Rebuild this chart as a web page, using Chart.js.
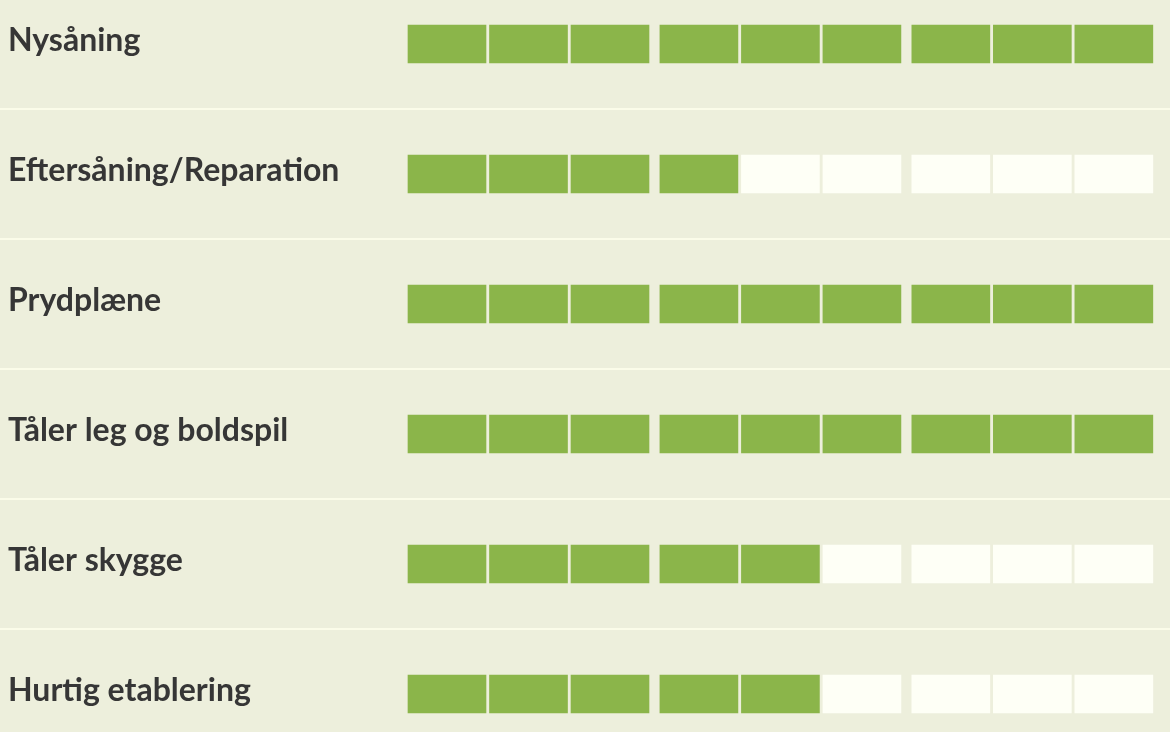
<!DOCTYPE html>
<html>
<head>
<meta charset="utf-8">
<script src="https://cdn.jsdelivr.net/npm/chart.js@4.4.0/dist/chart.umd.min.js"></script>
<style>
  html, body { margin: 0; padding: 0; background: #edefdc; }
  #wrap { width: 1170px; height: 732px; }
</style>
</head>
<body>
<div id="wrap"><canvas id="chart"></canvas></div>
<script>
// rows and how many of the 9 segments are filled
var categories = ['Nysåning', 'Eftersåning/Reparation', 'Prydplæne', 'Tåler leg og boldspil', 'Tåler skygge', 'Hurtig etablering'];
var scores = [9, 4, 9, 9, 5, 5];
var segmentCount = 9;
var groupSize = 3;

var green = '#8bb54a';
var empty = '#fefff6';
var smallGap = 0.045;   // gap between segments, in segment widths
var groupGap = 0.14;    // gap between groups of three

var datasets = [];
for (var i = 0; i < segmentCount; i++) {
    var start = i * (1 + smallGap) + Math.floor(i / groupSize) * (groupGap - smallGap);
    datasets.push({
        label: 'seg' + i,
        data: categories.map(function () { return [start, start + 1]; }),
        backgroundColor: scores.map(function (s) { return i < s ? green : empty; }),
        borderWidth: 0,
        grouped: false,
        clip: false,
        barThickness: 38
    });
}

// thin light lines between the rows, across the whole width
var rowLines = {
    id: 'rowLines',
    beforeDatasetsDraw: function (chart) {
        var ctx = chart.ctx;
        var y = chart.scales.y;
        ctx.save();
        ctx.strokeStyle = '#fbfce9';
        ctx.lineWidth = 2;
        for (var k = 0; k < categories.length - 1; k++) {
            var py = (y.getPixelForValue(k) + y.getPixelForValue(k + 1)) / 2;
            ctx.beginPath();
            ctx.moveTo(0, py);
            ctx.lineTo(chart.width, py);
            ctx.stroke();
        }
        ctx.restore();
    }
};

new Chart(document.getElementById('chart'), {
    type: 'bar',
    data: { labels: categories, datasets: datasets },
    plugins: [rowLines],
    options: {
        indexAxis: 'y',
        responsive: true,
        maintainAspectRatio: false,
        animation: false,
        layout: { padding: { top: 44, bottom: 38, left: 8, right: 0 } },
        plugins: { legend: { display: false }, tooltip: { enabled: false } },
        scales: {
            x: { type: 'linear', min: 0, max: 9.77, display: false },
            y: {
                type: 'category',
                offset: false,
                grid: { display: false },
                border: { display: false },
                ticks: {
                    crossAlign: 'far',
                    padding: 0,
                    labelOffset: -3,
                    color: '#363636',
                    font: { family: 'Lato', size: 32, weight: 'bold' }
                },
                afterFit: function (scale) { scale.width = 400; }
            }
        }
    }
});
</script>
</body>
</html>
